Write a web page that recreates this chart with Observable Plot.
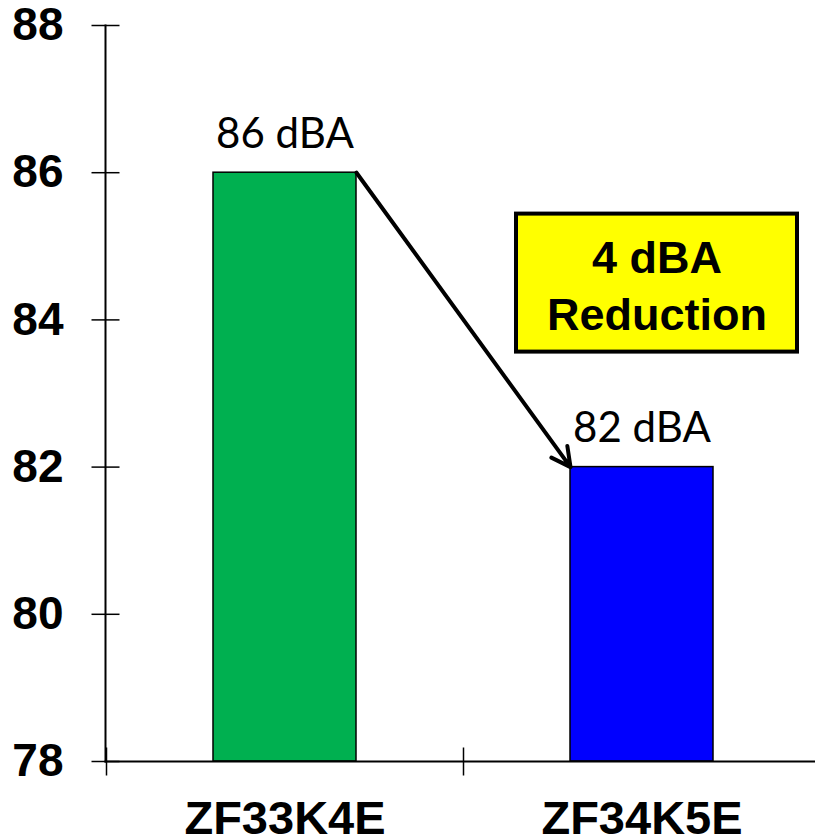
<!DOCTYPE html>
<html>
<head>
<meta charset="utf-8">
<script src="https://cdn.jsdelivr.net/npm/d3@7"></script>
<script src="https://cdn.jsdelivr.net/npm/@observablehq/plot@0.6"></script>
<style>
  html, body { margin: 0; padding: 0; background: white; overflow: hidden; }
</style>
</head>
<body>
<div id="chart"></div>
<script>
// ---- data ----
const categories = ["ZF33K4E", "ZF34K5E"];
const values = [86, 82];
const barColors = ["#00B050", "#0000FF"];
const yDomain = [78, 88];
const yTicks = [78, 80, 82, 84, 86, 88];
const unit = "dBA";
const annotationLabel = "4 dBA\nReduction";
const annotationAt = {x: "ZF34K5E", y: 84.5};

const data = categories.map((c, i) => ({category: c, value: values[i], color: barColors[i]}));
const arrowData = [{from: categories[0], to: categories[1], y1: values[0], y2: values[1]}];

// ---- styling helpers ----
const hline = {draw(ctx, size) { const r = Math.sqrt(size / Math.PI); ctx.moveTo(-r, 0); ctx.lineTo(r, 0); }};
const vline = {draw(ctx, size) { const r = Math.sqrt(size / Math.PI); ctx.moveTo(0, -r); ctx.lineTo(0, r); }};
const boxW = 281, boxH = 138, boxDx = 15;

const chart = Plot.plot({
  width: 815,
  height: 838,
  marginLeft: 105,
  marginRight: -5,
  marginTop: 25,
  marginBottom: 77,
  style: {fontFamily: "Liberation Sans, Arial, sans-serif", background: "white", overflow: "visible"},
  x: {domain: categories, paddingInner: 0.6, paddingOuter: 0.3, align: 0.5},
  y: {domain: yDomain},
  marks: [
    Plot.barY(data, {x: "category", y1: yDomain[0], y2: "value", fill: "color", stroke: "black", strokeWidth: 1.5}),
    Plot.frame({anchor: "left", stroke: "black", strokeWidth: 2}),
    Plot.frame({anchor: "bottom", stroke: "black", strokeWidth: 2}),
    Plot.dot(yTicks, {y: d => d, frameAnchor: "left", symbol: hline, r: 14, stroke: "black", strokeWidth: 1.5, fill: "none"}),
    Plot.dot(categories, {
      x: d => d, frameAnchor: "bottom", symbol: vline, r: 14, stroke: "black", strokeWidth: 1.5, fill: "none",
      render: (I, s, v, d, c, next) => next(I, s, {...v, x: Float64Array.from(v.x, x => x - s.x.step() / 2)}, d, c)
    }),
    Plot.axisY({ticks: yTicks, tickSize: 0, tickPadding: 42, fontSize: 46, fontWeight: "bold", fill: "black", label: null}),
    Plot.axisX({tickSize: 0, tickPadding: 39, fontSize: 47, fontWeight: "bold", fill: "black", label: null}),
    Plot.text(data, {x: "category", y: "value", text: d => `${d.value} ${unit}`, lineAnchor: "bottom", dy: -25,
      fontFamily: "Lato", fontSize: 42, fill: "black"}),
    Plot.arrow(arrowData, {
      x1: "from", y1: "y1", x2: "to", y2: "y2", stroke: "black", strokeWidth: 4, headLength: 8, headAngle: 55,
      render: (I, s, v, d, c, next) => {
        const bw = s.x.bandwidth();
        return next(I, s, {...v,
          x1: Float64Array.from(v.x1, x => x + bw / 2),
          x2: Float64Array.from(v.x2, x => x - bw / 2)}, d, c);
      }
    }),
    Plot.text([{label: annotationLabel, ...annotationAt}], {
      x: "x", y: "y", text: "label", dx: boxDx, lineAnchor: "middle", lineHeight: 1.27,
      fontSize: 45, fontWeight: "bold", fill: "black",
      render: (I, s, v, d, c, next) => {
        const textG = next(I, s, v, d, c);
        const cx = s.x(annotationAt.x) + s.x.bandwidth() / 2 + boxDx;
        const cy = s.y(annotationAt.y);
        const g = document.createElementNS("http://www.w3.org/2000/svg", "g");
        const rect = document.createElementNS("http://www.w3.org/2000/svg", "rect");
        rect.setAttribute("x", cx - boxW / 2);
        rect.setAttribute("y", cy - boxH / 2);
        rect.setAttribute("width", boxW);
        rect.setAttribute("height", boxH);
        rect.setAttribute("fill", "#FFFF00");
        rect.setAttribute("stroke", "black");
        rect.setAttribute("stroke-width", 4);
        g.appendChild(rect);
        g.appendChild(textG);
        return g;
      }
    })
  ]
});
document.getElementById("chart").appendChild(chart);
</script>
</body>
</html>
